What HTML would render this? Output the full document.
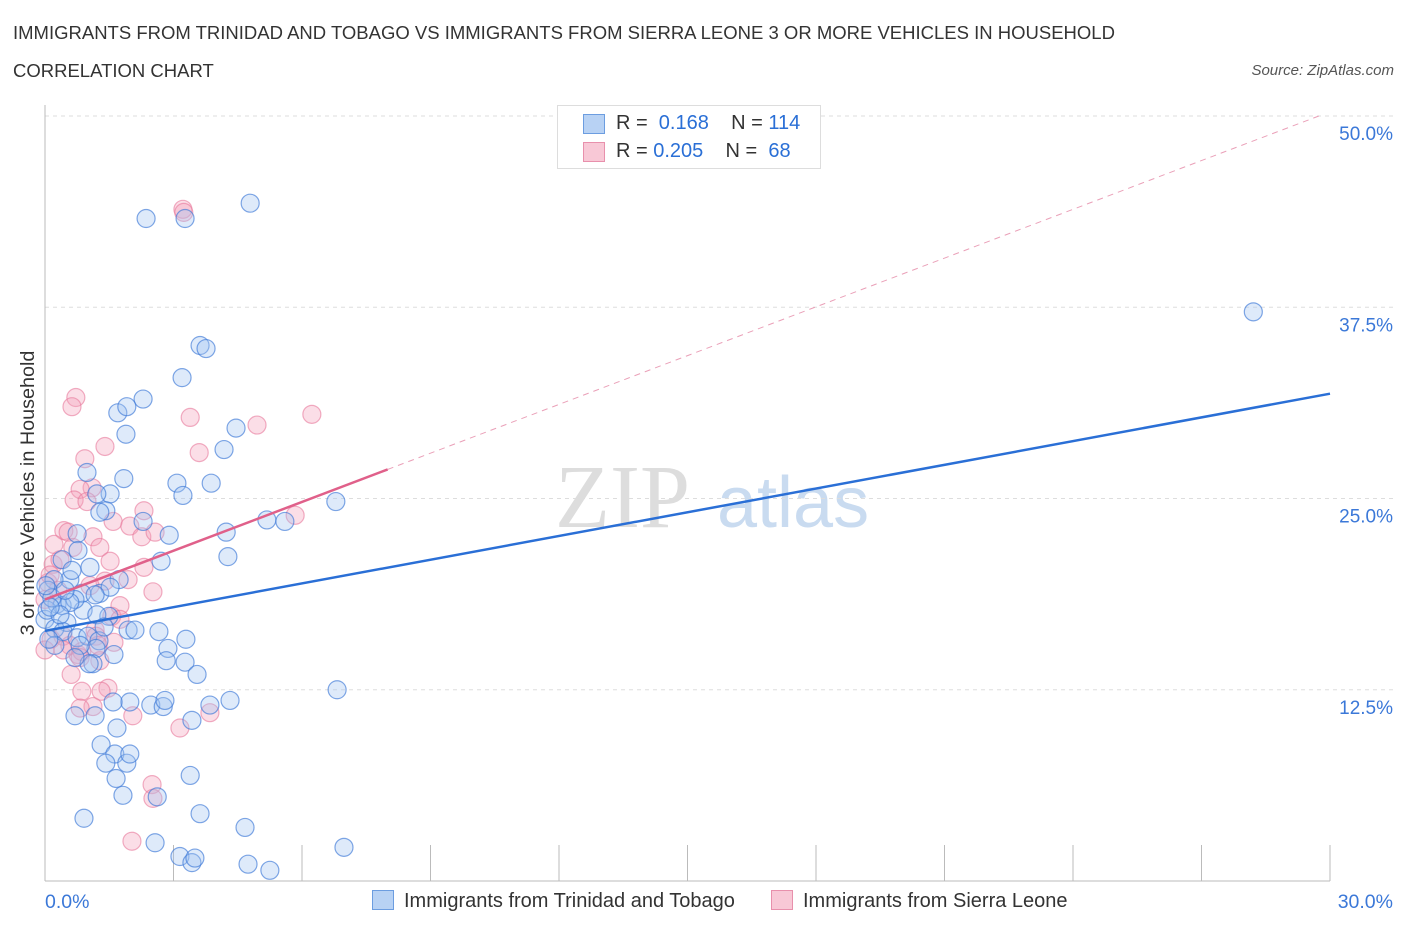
<!DOCTYPE html>
<html><head><meta charset="utf-8"><style>
body{margin:0;background:#fff;font-family:"Liberation Sans",sans-serif;}
#wrap{position:relative;width:1406px;height:930px;overflow:hidden;}
.t{position:absolute;white-space:nowrap;}
</style></head><body>
<div id="wrap">
<div class="t" style="left:13px;top:22px;font-size:18.5px;color:#333;">IMMIGRANTS FROM TRINIDAD AND TOBAGO VS IMMIGRANTS FROM SIERRA LEONE 3 OR MORE VEHICLES IN HOUSEHOLD</div>
<div class="t" style="left:13px;top:60px;font-size:18.5px;color:#333;">CORRELATION CHART</div>
<div class="t" style="right:12px;top:62px;font-size:15px;color:#555;font-style:italic;">Source: ZipAtlas.com</div>
<svg id="plot" width="1406" height="930" style="position:absolute;left:0;top:0"></svg>
</div>
<script>
const xTicksLbl=["0.0%","30.0%"];
const yTicks=[12.5,25,37.5,50];
const yTickLbl=["12.5%","25.0%","37.5%","50.0%"];
const blueX=[2.36,3.27,4.79,28.21,3.62,3.76,3.20,2.29,1.70,1.91,1.89,4.46,4.18,0.98,1.84,3.08,3.88,3.22,1.52,1.21,6.79,1.42,1.28,2.29,2.90,4.23,5.18,5.60,0.75,4.27,2.71,1.05,1.73,0.58,0.21,0.07,0.86,1.28,0.28,0.40,0.89,1.49,1.21,0,0.51,0.23,0.42,0.75,1.00,1.26,1.94,2.10,2.66,3.29,2.87,1.19,2.83,3.27,1.61,1.12,3.55,6.82,0.23,0.82,0.05,0.16,0.70,1.98,1.59,2.47,2.76,2.80,3.85,4.32,0.70,1.17,3.43,1.68,1.31,1.63,1.42,1.91,1.98,3.39,1.66,1.82,2.62,3.62,0.91,4.67,2.57,3.15,3.43,3.50,4.74,5.25,6.98,0.09,0.58,0.35,1.52,0.02,0.40,0.77,0.63,1.38,1.03,0.70,1.17,0.47,0.12];
const blueY=[43.3,43.3,44.3,37.2,35.0,34.8,32.9,31.5,30.6,31.0,29.2,29.6,28.2,26.7,26.3,26.0,26.0,25.2,25.3,25.3,24.8,24.2,24.1,23.5,22.6,22.8,23.6,23.5,22.7,21.2,20.9,20.5,19.7,19.7,19.7,19.0,18.8,18.8,18.1,18.0,17.7,17.3,17.4,17.1,16.9,16.5,16.3,15.9,16.0,15.7,16.4,16.4,16.3,15.8,15.2,15.2,14.4,14.3,14.8,14.2,13.5,12.5,15.4,15.4,17.7,18.5,18.4,11.7,11.7,11.5,11.4,11.8,11.5,11.8,10.8,10.8,10.5,10.0,8.9,8.3,7.7,7.7,8.3,6.9,6.7,5.6,5.5,4.4,4.1,3.5,2.5,1.6,1.2,1.5,1.1,0.7,2.2,15.8,18.2,17.4,19.2,19.3,21.0,21.6,20.3,16.6,14.2,14.6,18.7,19.0,17.9];
const pinkX=[3.22,3.24,0.72,0.63,3.39,4.95,6.23,1.40,0.93,3.60,1.10,0.82,1.59,0.68,0.98,0.44,0.54,1.12,1.98,2.26,2.31,1.28,1.52,0.65,0.19,0.07,1.40,1.05,1.94,2.31,1.75,2.52,1.56,1.17,1.19,0.42,0.58,0.14,0.0,0.77,0.86,1.24,1.61,0.61,0.82,0.86,1.47,1.31,1.12,0.82,3.85,2.05,3.15,5.84,2.50,2.52,2.03,0.35,1.75,0.0,1.28,0.30,2.57,0.42,0.21,0.12];
const pinkY=[43.9,43.7,31.6,31.0,30.3,29.8,30.5,28.4,27.6,28.0,25.7,25.6,23.5,24.9,24.8,22.9,22.8,22.5,23.2,22.5,24.2,21.8,20.9,21.8,20.7,19.5,19.6,19.3,19.7,20.5,18.0,18.9,17.3,16.4,16.0,16.0,15.4,15.8,15.1,14.8,15.0,15.4,15.6,13.5,14.6,12.4,12.6,12.4,11.4,11.3,11.0,10.8,10.0,23.9,6.3,5.4,2.6,21.0,17.1,18.4,14.4,19.0,22.8,15.1,22.0,20.0];
const blueTrend=[16.35,31.85];
const pinkTrend=[18.4,26.9,8.0];
const NS="http://www.w3.org/2000/svg";
const svg=document.getElementById('plot');
const X=v=>45+v/30*1285;
const Y=v=>881-v*15.3;
function mk(tag,a){const e=document.createElementNS(NS,tag);for(const k in a)e.setAttribute(k,a[k]);svg.appendChild(e);return e;}
let wm=mk('text',{x:555,y:527,'font-size':90,fill:'#ddd','font-family':'Liberation Serif, serif'});wm.textContent='ZIP';


let wm2=mk('text',{x:717,y:527,'font-size':72,fill:'#c9dbf0','font-family':'Liberation Sans, sans-serif'});wm2.textContent='atlas';


yTicks.forEach((v,i)=>{
 const g=mk('line',{x1:45,x2:1395,y1:Y(v),y2:Y(v),stroke:'#ddd','stroke-dasharray':'4,4'});
 
 
 const t=mk('text',{x:1393,y:Y(v)+24,'text-anchor':'end','font-size':19,fill:'#3b78d8'});t.textContent=yTickLbl[i];
 
 
});
const ax=mk('line',{x1:45,x2:45,y1:105,y2:881,stroke:'#bbb'});


const bx=mk('line',{x1:45,x2:1330,y1:881,y2:881,stroke:'#bbb'});


for(let i=1;i<=10;i++){const l=mk('line',{x1:X(i*3),x2:X(i*3),y1:845,y2:881,stroke:'#bbb'});
 
 }
[[0,'start',45],[30,'end',1393]].forEach((a,i)=>{const t=mk('text',{x:a[2],y:908,'text-anchor':a[1],'font-size':19.5,fill:'#3b78d8'});t.textContent=xTicksLbl[i];
 
 });
const yl=mk('text',{x:0,y:0,transform:'translate(34,493) rotate(-90)','text-anchor':'middle','font-size':19.8,fill:'#333'});yl.textContent='3 or more Vehicles in Household';


pinkX.forEach((x,i)=>{const c=mk('circle',{cx:X(x),cy:Y(pinkY[i]),r:9,fill:'rgba(244,160,185,0.35)',stroke:'rgba(232,120,155,0.6)','stroke-width':1.2});
 
 });
blueX.forEach((x,i)=>{const c=mk('circle',{cx:X(x),cy:Y(blueY[i]),r:9,fill:'rgba(160,195,240,0.35)',stroke:'rgba(60,120,215,0.65)','stroke-width':1.2});
 
 });
const bt=mk('line',{x1:X(0),y1:Y(blueTrend[0]),x2:X(30),y2:Y(blueTrend[1]),stroke:'#2a6fd6','stroke-width':2.5});


const sl=(pinkTrend[1]-pinkTrend[0])/pinkTrend[2];
const pt=mk('line',{x1:X(0),y1:Y(pinkTrend[0]),x2:X(pinkTrend[2]),y2:Y(pinkTrend[1]),stroke:'#e0608a','stroke-width':2.5});


const xe=(50-pinkTrend[0])/sl;
const pd=mk('line',{x1:X(pinkTrend[2]),y1:Y(pinkTrend[1]),x2:X(xe),y2:Y(50),stroke:'#eaa0b8','stroke-width':1,'stroke-dasharray':'6,5'});


</script>
<div class="t" style="left:557px;top:105px;width:262px;height:62px;border:1px solid #ddd;background:#fff;font-size:20px;">
 <div style="position:absolute;left:25px;top:8px;width:20px;height:18px;background:#b8d2f4;border:1px solid #6c9de0;"></div>
 <div class="t" style="left:58px;top:6px;color:#333;">R = &nbsp;<span style="color:#2a6fd6">0.168</span>&nbsp;&nbsp;&nbsp; N = <span style="color:#2a6fd6">114</span></div>
 <div style="position:absolute;left:25px;top:36px;width:20px;height:18px;background:#f8c8d6;border:1px solid #e890ac;"></div>
 <div class="t" style="left:58px;top:34px;color:#333;">R = <span style="color:#2a6fd6">0.205</span>&nbsp;&nbsp;&nbsp; N = &nbsp;<span style="color:#2a6fd6">68</span></div>
</div>
<div class="t" style="left:372px;top:890px;font-size:20px;color:#333;">
 <span style="display:inline-block;width:20px;height:18px;background:#b8d2f4;border:1px solid #6c9de0;vertical-align:-3px;margin-right:10px;"></span>Immigrants from Trinidad and Tobago</div>
<div class="t" style="left:771px;top:890px;font-size:20px;color:#333;">
 <span style="display:inline-block;width:20px;height:18px;background:#f8c8d6;border:1px solid #e890ac;vertical-align:-3px;margin-right:10px;"></span>Immigrants from Sierra Leone</div>
</body></html>
